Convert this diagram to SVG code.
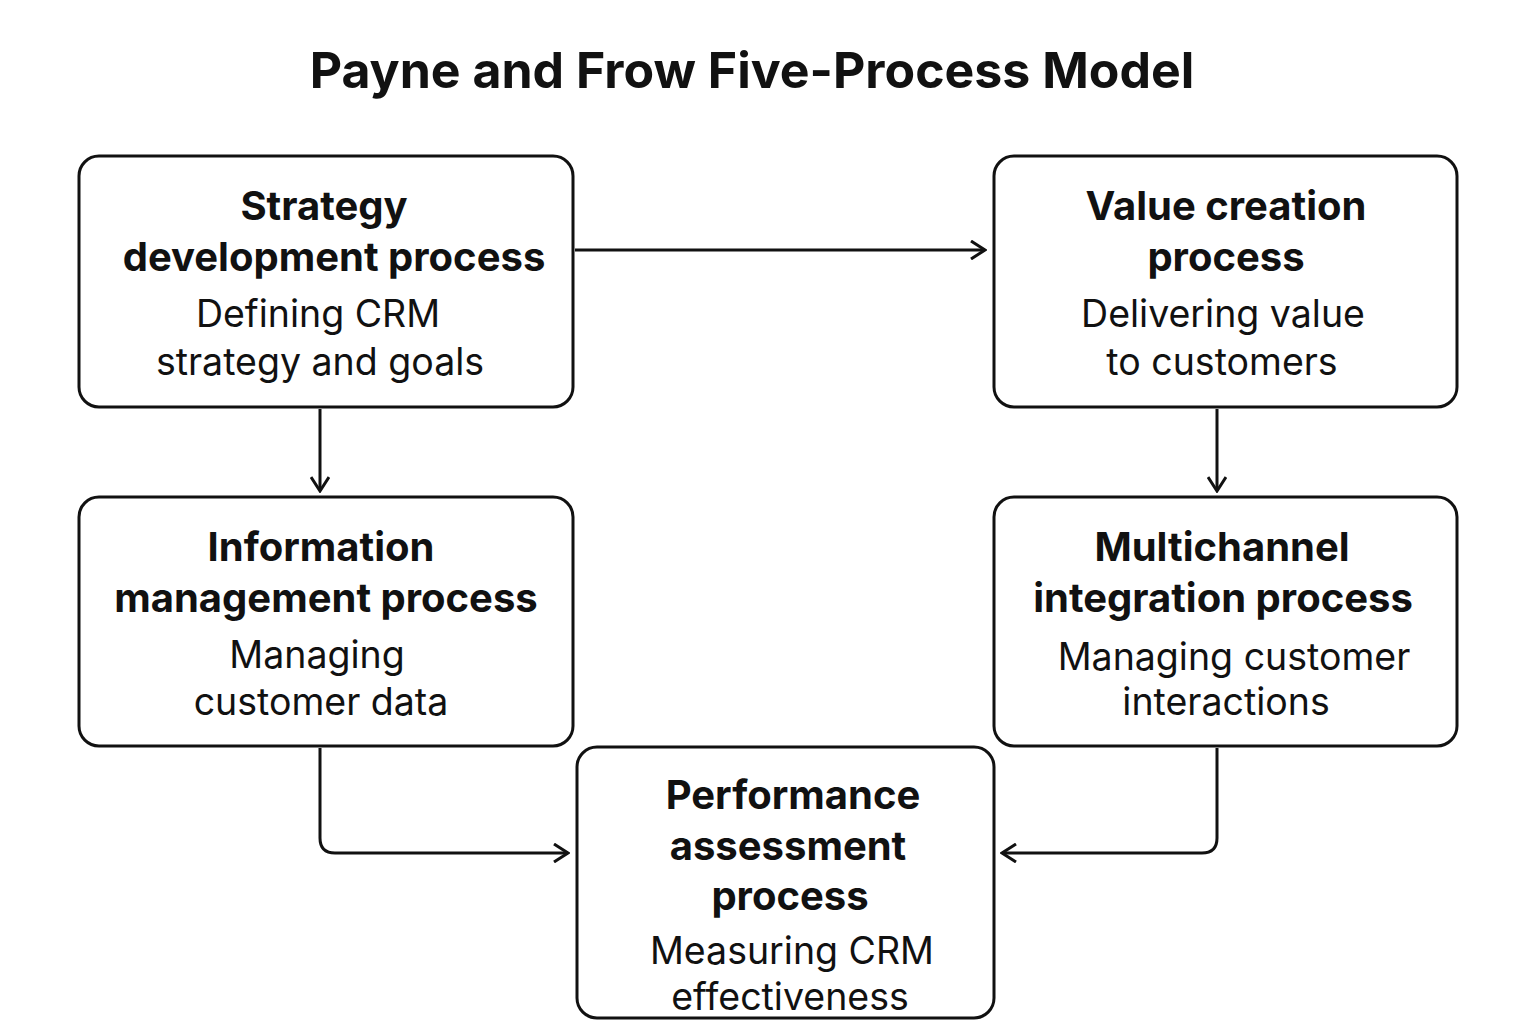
<svg xmlns="http://www.w3.org/2000/svg" width="1536" height="1024" viewBox="0 0 1536 1024">
<style>
.box{fill:#fff;stroke:#111;stroke-width:3}
.t{font-family:Inter,"Liberation Sans",sans-serif;font-weight:700;font-size:40px;fill:#111;text-anchor:middle}
.d{font-family:Inter,"Liberation Sans",sans-serif;font-weight:400;font-size:37.5px;fill:#111;text-anchor:middle}
.c{fill:none;stroke:#111;stroke-width:3}
</style>
<defs><marker id="a" viewBox="0 0 20 20" refX="18" refY="10" markerWidth="20" markerHeight="20" markerUnits="userSpaceOnUse" orient="auto"><path d="M4 1 L18 10 L4 19" fill="none" stroke="#111" stroke-width="3"/></marker></defs>
<rect width="1536" height="1024" fill="#fff"/>
<text x="752" y="88" style="font-family:Inter,'Liberation Sans',sans-serif;font-weight:700;font-size:50px;fill:#111;text-anchor:middle">Payne and Frow Five-Process Model</text>
<g id="connectors">
<path class="c" d="M575 250 H985" marker-end="url(#a)"/>
<path class="c" d="M320 409 V491" marker-end="url(#a)"/>
<path class="c" d="M1217 409 V491" marker-end="url(#a)"/>
<path class="c" d="M320 748 V838 Q320 853 335 853 H568" marker-end="url(#a)"/>
<path class="c" d="M1217 748 V838 Q1217 853 1202 853 H1002" marker-end="url(#a)"/>
</g>
<g id="strategy"><rect class="box" x="79" y="156" width="494" height="251" rx="20"/>
<text class="t" x="324" y="220">Strategy</text><text class="t" x="334" y="271">development process</text>
<text class="d" x="318" y="327">Defining CRM</text><text class="d" x="320" y="375">strategy and goals</text></g>
<g id="value"><rect class="box" x="994" y="156" width="463" height="251" rx="20"/>
<text class="t" x="1226" y="220">Value creation</text><text class="t" x="1226" y="271">process</text>
<text class="d" x="1223" y="327">Delivering value</text><text class="d" x="1222" y="375">to customers</text></g>
<g id="information"><rect class="box" x="79" y="497" width="494" height="249" rx="20"/>
<text class="t" x="321" y="561">Information</text><text class="t" x="326" y="612">management process</text>
<text class="d" x="317" y="668">Managing</text><text class="d" x="321" y="715">customer data</text></g>
<g id="multichannel"><rect class="box" x="994" y="497" width="463" height="249" rx="20"/>
<text class="t" x="1222" y="561">Multichannel</text><text class="t" x="1223" y="612">integration process</text>
<text class="d" x="1234" y="670">Managing customer</text><text class="d" x="1226" y="715">interactions</text></g>
<g id="performance"><rect class="box" x="577" y="747" width="417" height="271" rx="20"/>
<text class="t" x="793" y="809">Performance</text><text class="t" x="788" y="860">assessment</text><text class="t" x="790" y="910">process</text>
<text class="d" x="792" y="964">Measuring CRM</text><text class="d" x="790" y="1010">effectiveness</text></g>
</svg>
